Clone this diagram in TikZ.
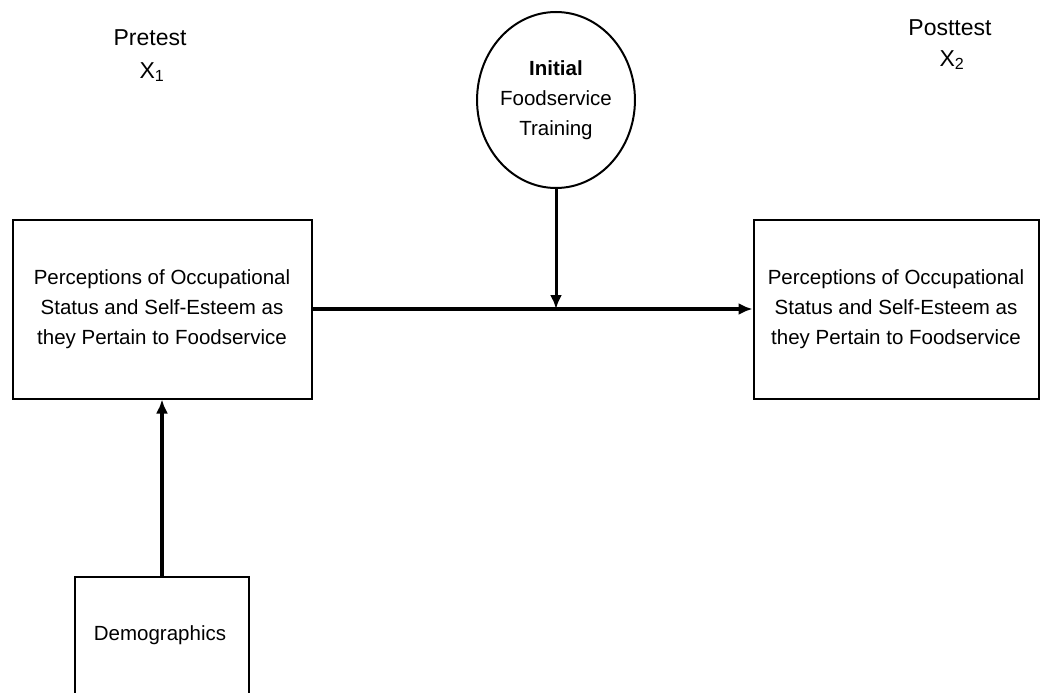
\documentclass[tikz,border=0pt]{standalone}
\usepackage{fontspec}
\setmainfont{Liberation Sans}
\usetikzlibrary{shapes.geometric,arrows.meta}

\begin{document}
\begin{tikzpicture}[x=1pt, y=-1pt,
    every node/.style={font=\fontsize{20.5}{30}\selectfont, align=center},
    toplab/.style={font=\fontsize{23}{30}\selectfont},
    box/.style={draw, line width=2pt, minimum height=179pt},
    link/.style={line width=4pt, -{Latex[length=14pt,width=12pt]}}]
    \useasboundingbox (0,0) rectangle (1041,693);
    % test labels
    \node[toplab] (pre) at (150,38) {Pretest};
    \node[toplab] (prex) at (152,72) {X\textsubscript{1}};
    \node[toplab] (post) at (950,28) {Posttest};
    \node[toplab] (postx) at (952,60) {X\textsubscript{2}};
    % boxes
    \node[box, minimum width=299pt] (left) at (162,309)
        {Perceptions of Occupational\\Status and Self-Esteem as\\they Pertain to Foodservice};
    \node[box, minimum width=285pt] (right) at (896,309)
        {Perceptions of Occupational\\Status and Self-Esteem as\\they Pertain to Foodservice};
    \node[draw, ellipse, line width=2pt, inner sep=0pt,
        minimum width=144pt, minimum height=176pt] (train) at (556,100)
        {\textbf{Initial}\\Foodservice\\Training};
    \node[box, minimum width=174pt, minimum height=130pt] (demo) at (162,642) {};
    \node (demolab) at (160,635) {Demographics};
    % connectors
    \coordinate (meet) at (train.south |- left.east);
    \draw[link] (left.east) -- (right.west);
    \draw[link, line width=3pt] (train.south) -- (meet);
    \draw[link] (demo.north) -- (left.south);
\end{tikzpicture}
\end{document}
